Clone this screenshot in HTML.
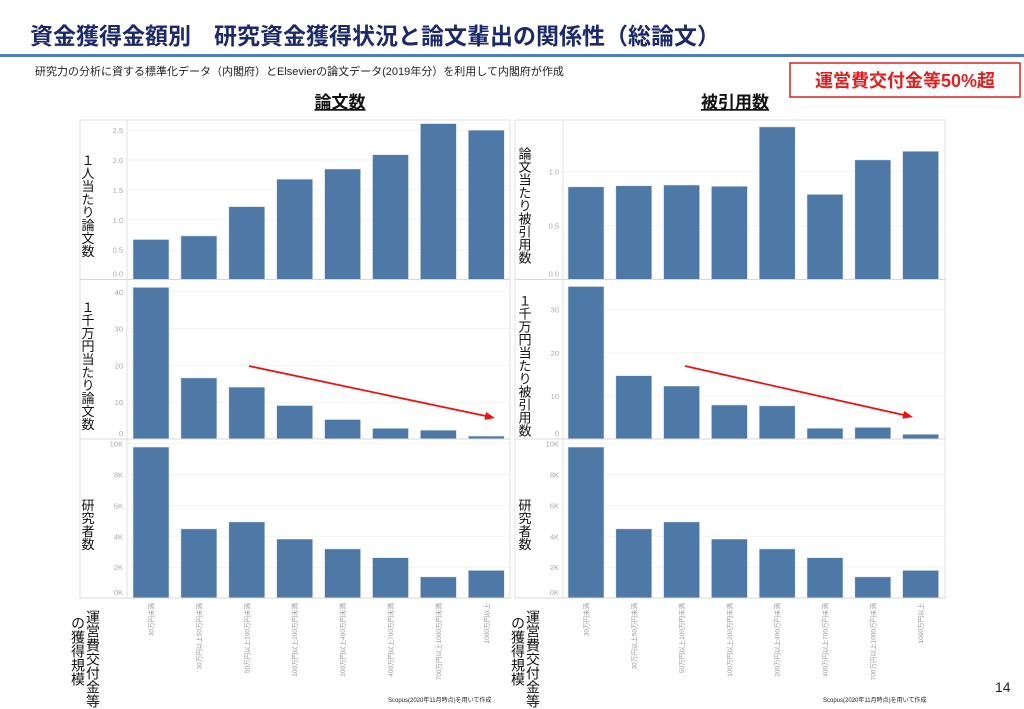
<!DOCTYPE html>
<html><head><meta charset="utf-8"><style>
body{margin:0;background:#fff;}
svg{display:block;font-family:"Liberation Sans","Noto Sans CJK JP",sans-serif;}
</style></head><body>
<svg id="s" width="1024" height="709" viewBox="0 0 1024 709" xmlns="http://www.w3.org/2000/svg">
<text x="30" y="44" font-size="23" font-weight="bold" fill="#1c2a6b">資金獲得金額別　研究資金獲得状況と論文輩出の関係性（総論文）</text>
<rect x="0" y="54" width="1024" height="3" fill="#4f7fbd"/>
<text x="35" y="75" font-size="11" fill="#222">研究力の分析に資する標準化データ（内閣府）とElsevierの論文データ(2019年分）を利用して内閣府が作成</text>
<rect x="790" y="63" width="230" height="34" fill="#fff" stroke="#e02020" stroke-width="1.5"/>
<text x="905" y="87" font-size="18" font-weight="bold" fill="#e02020" text-anchor="middle">運営費交付金等50%超</text>
<text x="340" y="108" font-size="17" font-weight="bold" fill="#111" text-anchor="middle" text-decoration="underline">論文数</text>
<text x="735" y="108" font-size="17" font-weight="bold" fill="#111" text-anchor="middle" text-decoration="underline">被引用数</text>
<text x="995" y="692" font-size="14" fill="#222">14</text>
<g id="g"></g>
</svg>
<script>
const categories=["30万円未満","30万円以上50万円未満","50万円以上100万円未満","100万円以上200万円未満","200万円以上400万円未満","400万円以上700万円未満","700万円以上1000万円未満","1000万円以上"];
const papersPerPerson=[0.67,0.73,1.22,1.68,1.85,2.09,2.61,2.50];
const papersPer10M=[41.2,16.6,14.1,9.1,5.3,2.9,2.4,0.8];
const researchers=[9780,4480,4930,3820,3180,2610,1370,1790];
const citesPerPaper=[0.86,0.87,0.877,0.865,1.416,0.79,1.11,1.19];
const citesPer10M=[35.4,14.7,12.3,7.9,7.7,2.5,2.7,1.1];
const ticksA=[0,0.5,1.0,1.5,2.0,2.5];
const ticksB=[0,10,20,30,40];
const ticksC=[0,2000,4000,6000,8000,10000];
const ticksD=[0,0.5,1.0];
const ticksE=[0,10,20,30];
const NS="http://www.w3.org/2000/svg";
const g=document.getElementById('g');
function el(t,a,p){const e=document.createElementNS(NS,t);for(const k in a)e.setAttribute(k,a[k]);(p||g).appendChild(e);return e;}
function vtext(x,y,str,size,name){
  const t=el('text',{x:x,y:y,'font-size':size,fill:'#111','writing-mode':'tb','glyph-orientation-vertical':'0'});
  
  
  t.textContent=str;return t;}
const rows=[{top:120,base:279.5},{top:280,base:439},{top:439,base:598}];
const panels=[
 {x0:80,x1:510,ax:127,b0:133,step:47.9,rows:[
   {vals:papersPerPerson,ticks:ticksA,max:2.67,fmt:v=>v.toFixed(1),title:"１人当たり論文数",name:'papers-per-person'},
   {vals:papersPer10M,ticks:ticksB,max:43.2,fmt:v=>String(v),title:"１千万円当たり論文数",name:'papers-per-10m-yen'},
   {vals:researchers,ticks:ticksC,max:10300,fmt:v=>(v/1000)+"K",title:"研究者数",name:'researchers-left'}],
  arrow:[249,366,495,418],tx:87,side:'left'},
 {x0:515,x1:945,ax:563,b0:568,step:47.8,rows:[
   {vals:citesPerPaper,ticks:ticksD,max:1.48,fmt:v=>v.toFixed(1),title:"論文当たり被引用数",name:'cites-per-paper'},
   {vals:citesPer10M,ticks:ticksE,max:36.9,fmt:v=>String(v),title:"１千万円当たり被引用数",name:'cites-per-10m-yen'},
   {vals:researchers,ticks:ticksC,max:10300,fmt:v=>(v/1000)+"K",title:"研究者数",name:'researchers-right'}],
  arrow:[685,366,913,417],tx:524,side:'right'}];
panels.forEach((P,pi)=>{
  const fr=el('rect',{x:P.x0,y:120,width:P.x1-P.x0,height:478,fill:'none',stroke:'#e2e2e2'});
  
  
  const ax=el('line',{x1:P.ax,y1:120,x2:P.ax,y2:598,stroke:'#e2e2e2'});
  
  
  P.rows.forEach((R,ri)=>{
    const row=rows[ri];const h=row.base-row.top;
    const y=v=>row.base-v/R.max*h;
    R.ticks.forEach(tk=>{
      const gl=el('line',{x1:P.ax,x2:P.x1,y1:y(tk),y2:y(tk),stroke:'#f2f2f2'});
      
      
      const t=el('text',{x:P.ax-4,y:Math.min(y(tk)+3,row.base-3),'font-size':7.5,fill:'#aaa','text-anchor':'end'});
      
      
      t.textContent=R.fmt(tk);
    });
    R.vals.forEach((v,i)=>{
      const b=el('rect',{x:P.b0+i*P.step,y:y(v),width:36,height:row.base-y(v),fill:'#4e79a7',stroke:'#dfe6ee','stroke-width':0.6});
      
      
    });
    const sep=el('line',{x1:P.x0,x2:P.x1,y1:row.base,y2:row.base,stroke:'#d8d8d8'});
    
    
    const len=R.title.length*13;
    vtext(P.tx,(row.top+row.base)/2-len/2+6,R.title,13,R.name+'-axis-title');
  });
  categories.forEach((c,i)=>{
    const cx=P.b0+i*P.step+18+2.5;
    const t=el('text',{x:0,y:0,'font-size':6.5,fill:'#999','text-anchor':'end',transform:`translate(${cx},603) rotate(-90)`});
    
    
    t.textContent=c;
  });
  const a=P.arrow;
  const ln=el('line',{x1:a[0],y1:a[1],x2:a[2]-8,y2:a[3]-1.7,stroke:'#ee1111','stroke-width':1.8});
  
  
  const dx=a[2]-a[0],dy=a[3]-a[1],L=Math.hypot(dx,dy),ux=dx/L,uy=dy/L;
  const hp=el('polygon',{points:`${a[2]},${a[3]} ${a[2]-10*ux-4*uy},${a[3]-10*uy+4*ux} ${a[2]-10*ux+4*uy},${a[3]-10*uy-4*ux}`,fill:'#ee1111'});
  
  
  const bx=pi===0?78:518;
  vtext(bx+15,610,"運営費交付金等",14,P.side+'-x-axis-title-1');
  vtext(bx,616,"の獲得規模",14,P.side+'-x-axis-title-2');
  const sc=el('text',{x:P.x0+308,y:702,'font-size':6,fill:'#222'});
  
  
  sc.textContent="Scopus(2020年11月時点)を用いて作成";
});
</script>
</body></html>
